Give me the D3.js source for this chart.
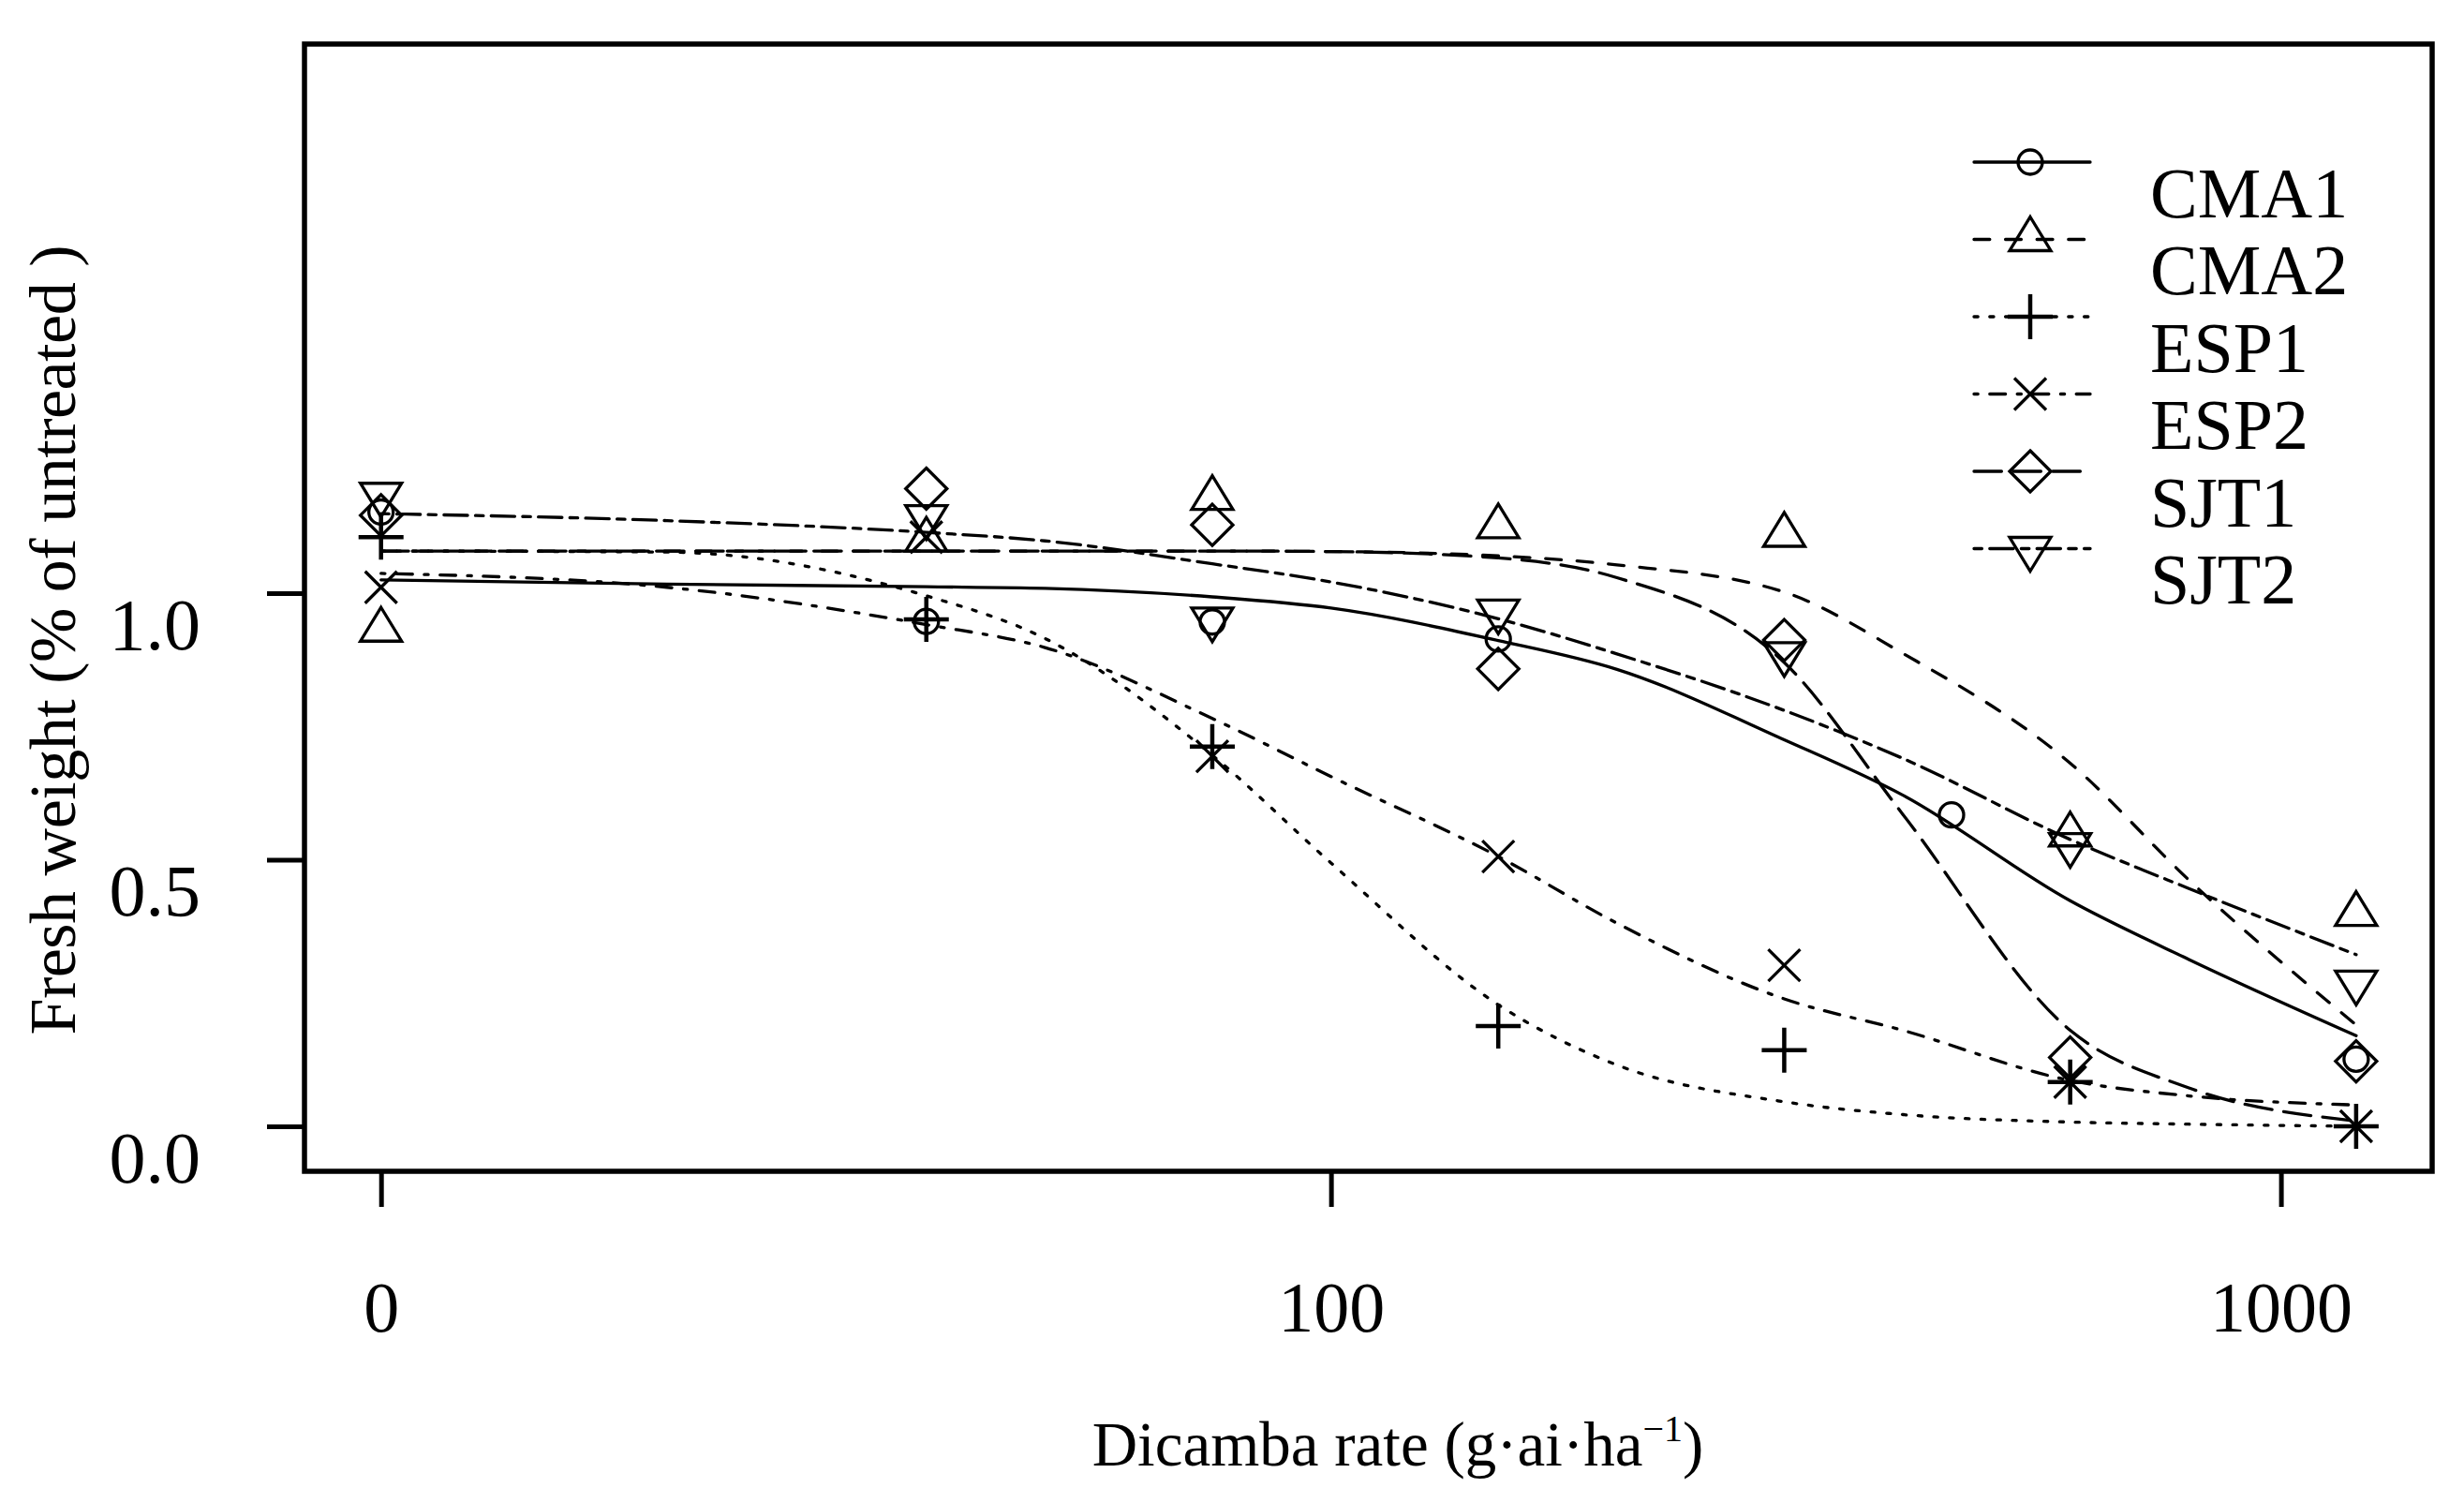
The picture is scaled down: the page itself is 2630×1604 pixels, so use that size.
<!DOCTYPE html>
<html><head><meta charset="utf-8">
<script src="https://cdn.jsdelivr.net/npm/d3@7"></script>
<style>html,body{margin:0;padding:0;background:#fff;} svg{display:block;}</style>
</head><body>
<svg id="chart" width="2630" height="1604"></svg>
<script>
// ---------- data ----------
const seriesNames = ["CMA1", "CMA2", "ESP1", "ESP2", "SJT1", "SJT2"];
const doses = [0, 37.5, 75, 150, 300, 600, 1200];
const cma1Doses = [0, 37.5, 75, 150, 450, 1200];
const cma1Obs = [1.152, 0.947, 0.946, 0.914, 0.584, 0.126];
const cma2Obs = [0.931, 1.100, 1.178, 1.125, 1.109, 0.547, 0.398];
const esp1Obs = [1.105, 0.951, 0.712, 0.188, 0.143, 0.083, 0.0];
const esp2Obs = [1.011, 1.105, 0.694, 0.506, 0.302, 0.083, 0.0];
const sjt1Obs = [1.146, 1.196, 1.128, 0.858, 0.912, 0.129, 0.122];
const sjt2Obs = [1.185, 1.143, 0.951, 0.966, 0.886, 0.528, 0.270];

// fitted curves
const curveDoses = [10, 20, 37.5, 50, 75, 100, 150, 200, 300, 400, 600, 800, 1200];
const cma1Fit = [1.025, 1.017, 1.012, 1.009, 0.993, 0.972, 0.911, 0.857, 0.725, 0.621, 0.423, 0.313, 0.170];
const cma2Fit = [1.079, 1.079, 1.079, 1.079, 1.079, 1.078, 1.070, 1.053, 1.002, 0.887, 0.681, 0.462, 0.190];
const esp1Fit = [1.079, 1.077, 0.995, 0.915, 0.696, 0.494, 0.228, 0.115, 0.046, 0.022, 0.008, 0.004, 0.000];
const esp2Fit = [1.037, 1.011, 0.941, 0.898, 0.765, 0.656, 0.506, 0.381, 0.239, 0.180, 0.086, 0.057, 0.040];
const sjt1Fit = [1.079, 1.079, 1.079, 1.079, 1.079, 1.078, 1.066, 1.029, 0.870, 0.585, 0.180, 0.072, 0.010];
const sjt2Fit = [1.149, 1.136, 1.114, 1.098, 1.055, 1.021, 0.952, 0.886, 0.780, 0.690, 0.538, 0.446, 0.322];

const xTickValues = [0, 100, 1000];
const xTickLabels = ["0", "100", "1000"];
const yTickValues = [0, 0.5, 1.0];
const yTickLabels = ["0.0", "0.5", "1.0"];
const zeroDosePosition = 10;   // where dose 0 is drawn on the log axis

// ---------- styles (R lty patterns, unit ~4.2px, round caps) ----------
const U = 4.2;
const ltyPattern = { CMA1: null, CMA2: [4, 4], ESP1: [1, 3], ESP2: [1, 3, 4, 3], SJT1: [7, 3], SJT2: [2, 2, 6, 2] };
const lineDash = {};
Object.keys(ltyPattern).forEach(k => { lineDash[k] = ltyPattern[k] ? ltyPattern[k].map(v => v * U).join(",") : null; });
const markerKind = { CMA1: "circle", CMA2: "triUp", ESP1: "plus", ESP2: "cross", SJT1: "diamond", SJT2: "triDown" };

const series = [
  { name: "CMA1", pd: cma1Doses, obs: cma1Obs, fit: cma1Fit },
  { name: "CMA2", pd: doses, obs: cma2Obs, fit: cma2Fit },
  { name: "ESP1", pd: doses, obs: esp1Obs, fit: esp1Fit },
  { name: "ESP2", pd: doses, obs: esp2Obs, fit: esp2Fit },
  { name: "SJT1", pd: doses, obs: sjt1Obs, fit: sjt1Fit },
  { name: "SJT2", pd: doses, obs: sjt2Obs, fit: sjt2Fit }
];

// ---------- layout ----------
const svg = d3.select("#chart");
const box = { left: 325, right: 2596, top: 47, bottom: 1250 };
const FONT = "'Liberation Serif', 'Times New Roman', serif";
const LW = 3.3;

const x = d3.scaleLog().domain([10, 1000]).range([406.7, 2434.6]);
const y = d3.scaleLinear().domain([0, 1]).range([1202, 633]);
const xd = d => x(d === 0 ? zeroDosePosition : d);

function markerPath(kind) {
  const p = d3.path();
  if (kind === "circle") { p.arc(0, 0, 13, 0, 2 * Math.PI); }
  else if (kind === "triUp") { const w = 22, h = 36; p.moveTo(0, -2 * h / 3); p.lineTo(w, h / 3); p.lineTo(-w, h / 3); p.closePath(); }
  else if (kind === "triDown") { const w = 22, h = 36; p.moveTo(0, 2 * h / 3); p.lineTo(w, -h / 3); p.lineTo(-w, -h / 3); p.closePath(); }
  else if (kind === "diamond") { const r = 22; p.moveTo(0, -r); p.lineTo(r, 0); p.lineTo(0, r); p.lineTo(-r, 0); p.closePath(); }
  else if (kind === "plus") { const r = 24; p.moveTo(-r, 0); p.lineTo(r, 0); p.moveTo(0, -r); p.lineTo(0, r); }
  else if (kind === "cross") { const r = 17; p.moveTo(-r, -r); p.lineTo(r, r); p.moveTo(-r, r); p.lineTo(r, -r); }
  return p.toString();
}
const markerWidth = k => (k === "plus" ? 4.5 : 3.3);

// ---------- curves ----------
const line = d3.line().x(d => x(d[0])).y(d => y(d[1])).curve(d3.curveMonotoneX);
const gCurves = svg.append("g");
series.forEach(s => {
  gCurves.append("path")
    .attr("d", line(curveDoses.map((d, i) => [d, s.fit[i]])))
    .attr("fill", "none").attr("stroke", "#000").attr("stroke-width", LW)
    .attr("stroke-linecap", "round").attr("stroke-linejoin", "round")
    .attr("stroke-dasharray", lineDash[s.name]);
});

// ---------- points ----------
const gPts = svg.append("g");
series.forEach(s => {
  const k = markerKind[s.name];
  gPts.selectAll(null).data(s.pd.map((d, i) => [d, s.obs[i]])).enter().append("path")
    .attr("transform", d => `translate(${xd(d[0])},${y(d[1])})`)
    .attr("d", markerPath(k))
    .attr("fill", "none").attr("stroke", "#000").attr("stroke-width", markerWidth(k));
});

// ---------- box ----------
svg.append("rect").attr("x", box.left).attr("y", box.top)
  .attr("width", box.right - box.left).attr("height", box.bottom - box.top)
  .attr("fill", "none").attr("stroke", "#000").attr("stroke-width", 5.5);

// ---------- axes ----------
const yAxis = d3.axisLeft(y).tickValues(yTickValues)
  .tickFormat((d, i) => yTickLabels[i]).tickSize(40).tickSizeOuter(0).tickPadding(71);
const gy = svg.append("g").attr("transform", `translate(${box.left},0)`).call(yAxis);
gy.select(".domain").remove();
gy.selectAll(".tick line").attr("stroke", "#000").attr("stroke-width", 5);
gy.selectAll(".tick text").attr("font-family", FONT).attr("font-size", 78).attr("fill", "#000").attr("dy", "0.76em");

const xAxis = d3.axisBottom(x).tickValues(xTickValues.map(v => v === 0 ? zeroDosePosition : v))
  .tickFormat((d, i) => xTickLabels[i]).tickSize(38).tickSizeOuter(0).tickPadding(79);
const gx = svg.append("g").attr("transform", `translate(0,${box.bottom})`).call(xAxis);
gx.select(".domain").remove();
gx.selectAll(".tick line").attr("stroke", "#000").attr("stroke-width", 5);
gx.selectAll(".tick text").attr("font-family", FONT).attr("font-size", 76).attr("fill", "#000");

// axis titles
const xt = svg.append("text").attr("x", 1492).attr("y", 1564).attr("text-anchor", "middle")
  .attr("font-family", FONT).attr("font-size", 67).attr("fill", "#000");
xt.append("tspan").text("Dicamba rate (g\u00B7ai\u00B7ha");
xt.append("tspan").attr("font-size", 40).attr("dy", -26).text("\u22121");
xt.append("tspan").attr("dy", 26).text(")");

svg.append("text").attr("transform", "translate(80,683) rotate(-90)").attr("text-anchor", "middle")
  .attr("font-family", FONT).attr("font-size", 70).attr("fill", "#000")
  .attr("textLength", 843).attr("lengthAdjust", "spacing")
  .text("Fresh weight (% of untreated )");

// ---------- legend ----------
const gLeg = svg.append("g");
seriesNames.forEach((n, i) => {
  const ly = 173 + 82.5 * i;
  gLeg.append("line").attr("x1", 2107).attr("x2", 2231).attr("y1", ly).attr("y2", ly)
    .attr("stroke", "#000").attr("stroke-width", LW).attr("stroke-linecap", "round")
    .attr("stroke-dasharray", lineDash[n]);
  const k = markerKind[n];
  gLeg.append("path").attr("transform", `translate(2167,${ly})`).attr("d", markerPath(k))
    .attr("fill", "none").attr("stroke", "#000").attr("stroke-width", markerWidth(k));
  gLeg.append("text").attr("x", 2295).attr("y", ly + 58.5)
    .attr("font-family", FONT).attr("font-size", 76).attr("fill", "#000").text(n);
});
</script>
</body></html>
